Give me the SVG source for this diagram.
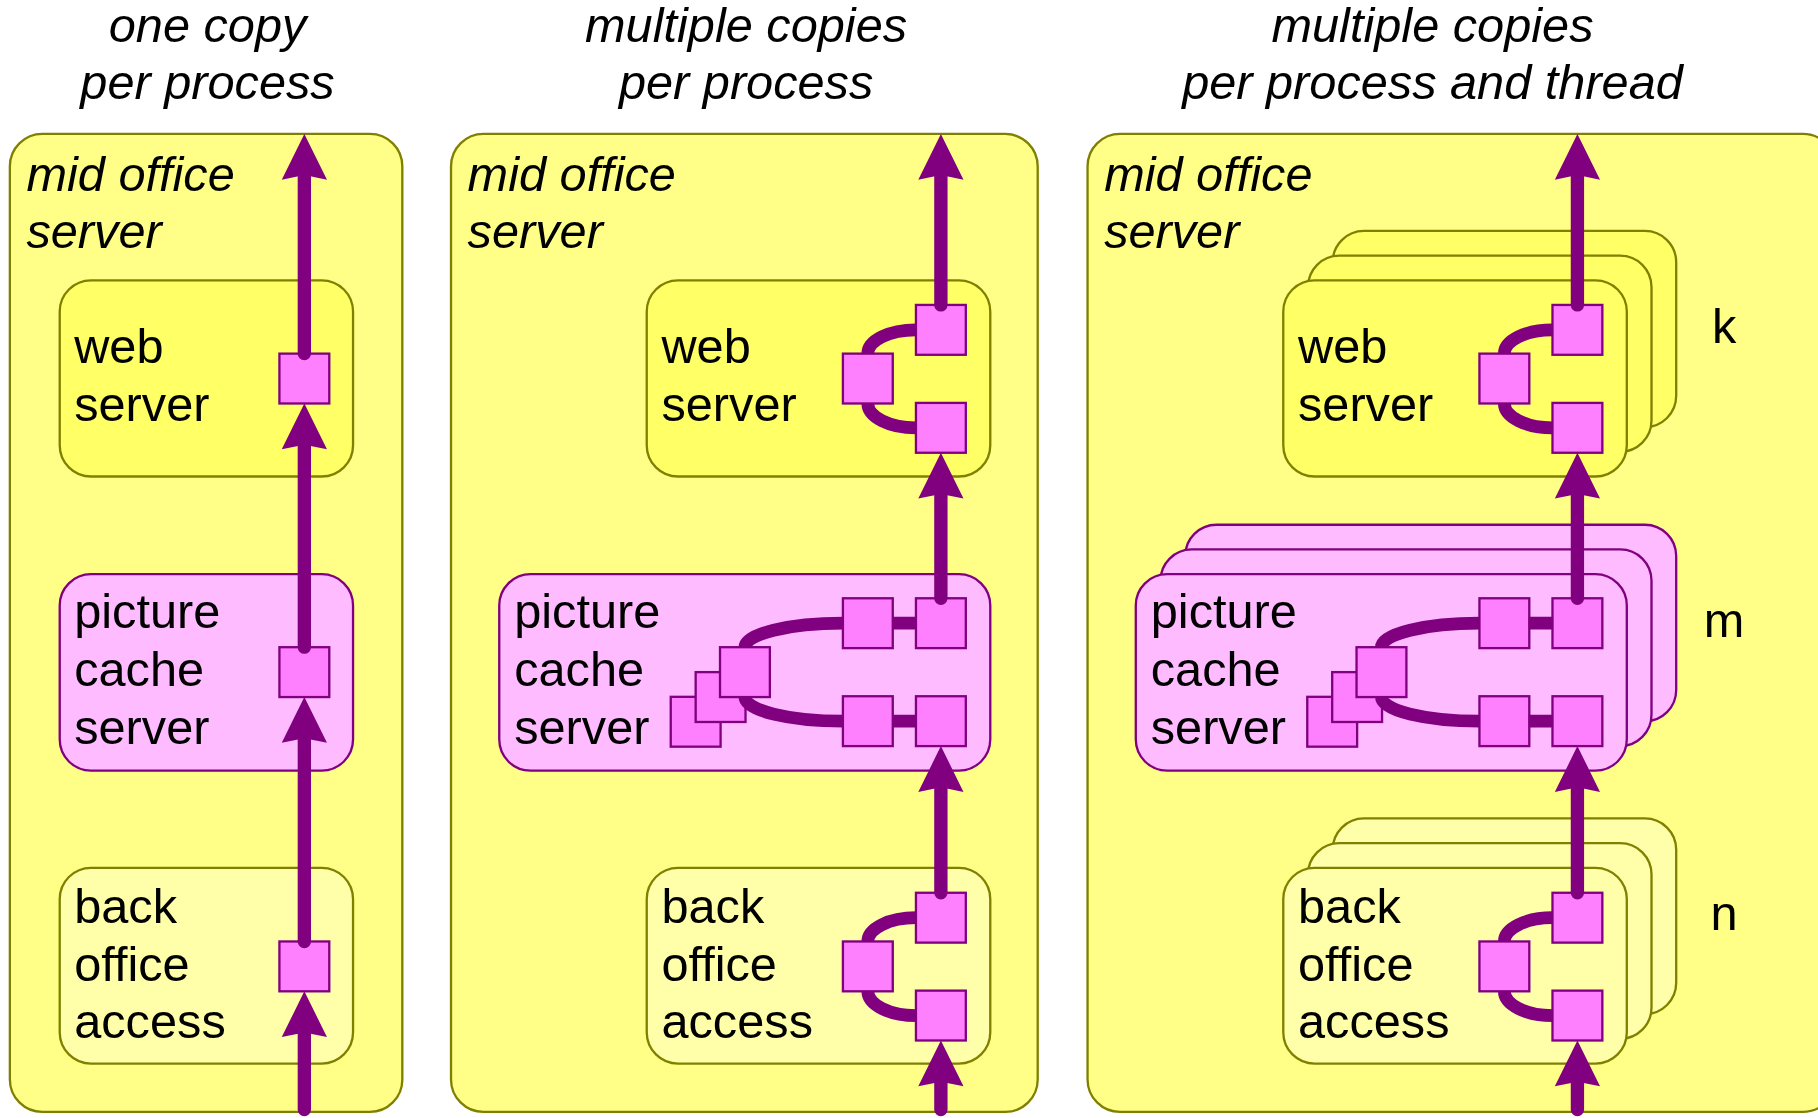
<svg xmlns="http://www.w3.org/2000/svg" xmlns:xlink="http://www.w3.org/1999/xlink" width="1818" height="1118" viewBox="0 0 1818 1118">
<defs>
<style>
.t{font-family:"Liberation Sans",Arial,sans-serif;font-size:42px;fill:#000}
.i{font-style:italic}
.outer{fill:#FFFF88;stroke:#808000;stroke-width:2}
.web{fill:#FFFF66;stroke:#808000;stroke-width:2}
.pic{fill:#FFBBFF;stroke:#800080;stroke-width:2}
.back{fill:#FFFFAA;stroke:#808000;stroke-width:2}
.sq{fill:#FF80FF;stroke:#800080;stroke-width:2}
.flow{fill:none;stroke:#800080;stroke-width:11.5;stroke-linecap:round}
.link{fill:none;stroke:#800080;stroke-width:11}
.head{fill:#800080}
</style>
<path id="ah" class="head" d="M0,0 L19.5,39.5 L0,35.5 L-19.5,39.5 Z"/>
</defs>
<rect x="0" y="0" width="1818" height="1118" fill="#FFFFFF"/>
<g transform="scale(1.159439)">

<!-- titles -->
<g id="title1"><text class="t i" text-anchor="middle"><tspan x="179" y="36.5">one copy</tspan><tspan x="179" y="85">per process</tspan></text></g>
<g id="title2"><text class="t i" text-anchor="middle"><tspan x="643.5" y="36.5">multiple copies</tspan><tspan x="643.5" y="85">per process</tspan></text></g>
<g id="title3"><text class="t i" text-anchor="middle"><tspan x="1235.5" y="36.5">multiple copies</tspan><tspan x="1235.5" y="85">per process and thread</tspan></text></g>

<!-- panel 1 -->
<g id="p1-mid-office">
<rect class="outer" x="8.5" y="115.5" width="338.5" height="843.5" rx="28"/>
<text class="t i"><tspan x="22.8" y="165">mid office</tspan><tspan x="22.8" y="213.5">server</tspan></text>
</g>
<g id="p1-web">
<rect class="web" x="51.5" y="241.8" width="253" height="169.2" rx="27"/>
<text class="t"><tspan x="64" y="313">web</tspan><tspan x="64" y="363">server</tspan></text>
<rect class="sq" x="241" y="305" width="43" height="43"/>
</g>
<g id="p1-picture">
<rect class="pic" x="51.5" y="495.2" width="253" height="169.5" rx="27"/>
<text class="t"><tspan x="64" y="541.3">picture</tspan><tspan x="64" y="591.5">cache</tspan><tspan x="64" y="641.5">server</tspan></text>
<rect class="sq" x="241" y="558.2" width="43" height="43"/>
</g>
<g id="p1-back">
<rect class="back" x="51.5" y="748.5" width="253" height="168.8" rx="27"/>
<text class="t"><tspan x="64" y="796">back</tspan><tspan x="64" y="846">office</tspan><tspan x="64" y="895.5">access</tspan></text>
<rect class="sq" x="241" y="812" width="43" height="43"/>
</g>

<!-- panel 2 -->
<g id="p2-mid-office">
<rect class="outer" x="389" y="115.5" width="506" height="843.5" rx="28"/>
<text class="t i"><tspan x="403.3" y="165">mid office</tspan><tspan x="403.3" y="213.5">server</tspan></text>
</g>
<g id="p2-web">
<rect class="web" x="557.8" y="241.8" width="296.3" height="169.2" rx="27"/>
<text class="t"><tspan x="570.5" y="313">web</tspan><tspan x="570.5" y="363">server</tspan></text>
<rect class="sq" x="790" y="263" width="43" height="43"/>
<rect class="sq" x="727" y="305" width="43" height="43"/>
<rect class="sq" x="790" y="347.5" width="43" height="43"/>
</g>
<g id="p2-picture">
<rect class="pic" x="430.6" y="495.2" width="423.5" height="169.5" rx="27"/>
<text class="t"><tspan x="443.5" y="541.3">picture</tspan><tspan x="443.5" y="591.5">cache</tspan><tspan x="443.5" y="641.5">server</tspan></text>
<rect class="sq" x="578.5" y="601" width="43" height="43"/>
<rect class="sq" x="600" y="579.7" width="43" height="43"/>
<rect class="sq" x="621" y="558.2" width="43" height="43"/>
<rect class="sq" x="727" y="516" width="43" height="43"/>
<rect class="sq" x="790" y="516" width="43" height="43"/>
<rect class="sq" x="727" y="600.5" width="43" height="43"/>
<rect class="sq" x="790" y="600.5" width="43" height="43"/>
</g>
<g id="p2-back">
<rect class="back" x="557.8" y="748.5" width="296.3" height="168.8" rx="27"/>
<text class="t"><tspan x="570.5" y="796">back</tspan><tspan x="570.5" y="846">office</tspan><tspan x="570.5" y="895.5">access</tspan></text>
<rect class="sq" x="790" y="770" width="43" height="43"/>
<rect class="sq" x="727" y="812" width="43" height="43"/>
<rect class="sq" x="790" y="854.4" width="43" height="43"/>
</g>

<!-- panel 3 -->
<g id="p3-mid-office">
<rect class="outer" x="938" y="115.5" width="645" height="843.5" rx="28"/>
<text class="t i"><tspan x="952.3" y="165">mid office</tspan><tspan x="952.3" y="213.5">server</tspan></text>
</g>
<g id="p3-web-copies">
<rect class="web" x="1149.4" y="199.2" width="296.3" height="169.2" rx="27"/>
<rect class="web" x="1128.1" y="220.5" width="296.3" height="169.2" rx="27"/>
</g>
<g id="p3-web">
<rect class="web" x="1106.8" y="241.8" width="296.3" height="169.2" rx="27"/>
<text class="t"><tspan x="1119.5" y="313">web</tspan><tspan x="1119.5" y="363">server</tspan></text>
<rect class="sq" x="1339" y="263" width="43" height="43"/>
<rect class="sq" x="1276" y="305" width="43" height="43"/>
<rect class="sq" x="1339" y="347.5" width="43" height="43"/>
</g>
<g id="p3-picture-copies">
<rect class="pic" x="1022.2" y="452.6" width="423.5" height="169.5" rx="27"/>
<rect class="pic" x="1000.9" y="473.9" width="423.5" height="169.5" rx="27"/>
</g>
<g id="p3-picture">
<rect class="pic" x="979.6" y="495.2" width="423.5" height="169.5" rx="27"/>
<text class="t"><tspan x="992.5" y="541.3">picture</tspan><tspan x="992.5" y="591.5">cache</tspan><tspan x="992.5" y="641.5">server</tspan></text>
<rect class="sq" x="1127.5" y="601" width="43" height="43"/>
<rect class="sq" x="1149" y="579.7" width="43" height="43"/>
<rect class="sq" x="1170" y="558.2" width="43" height="43"/>
<rect class="sq" x="1276" y="516" width="43" height="43"/>
<rect class="sq" x="1339" y="516" width="43" height="43"/>
<rect class="sq" x="1276" y="600.5" width="43" height="43"/>
<rect class="sq" x="1339" y="600.5" width="43" height="43"/>
</g>
<g id="p3-back-copies">
<rect class="back" x="1149.4" y="705.9" width="296.3" height="168.8" rx="27"/>
<rect class="back" x="1128.1" y="727.2" width="296.3" height="168.8" rx="27"/>
</g>
<g id="p3-back">
<rect class="back" x="1106.8" y="748.5" width="296.3" height="168.8" rx="27"/>
<text class="t"><tspan x="1119.5" y="796">back</tspan><tspan x="1119.5" y="846">office</tspan><tspan x="1119.5" y="895.5">access</tspan></text>
<rect class="sq" x="1339" y="770" width="43" height="43"/>
<rect class="sq" x="1276" y="812" width="43" height="43"/>
<rect class="sq" x="1339" y="854.4" width="43" height="43"/>
</g>
<g id="labels">
<text class="t" x="1487" y="296" text-anchor="middle">k</text>
<text class="t" x="1487" y="549" text-anchor="middle">m</text>
<text class="t" x="1487" y="802" text-anchor="middle">n</text>
</g>

<!-- connectors -->
<g id="connectors">
<path class="flow" d="M262.5,957 V885 M262.5,812 V630 M262.5,558.2 V380 M262.5,305 V150"/>
<use xlink:href="#ah" href="#ah" x="262.5" y="855"/>
<use xlink:href="#ah" href="#ah" x="262.5" y="601.2"/>
<use xlink:href="#ah" href="#ah" x="262.5" y="348"/>
<use xlink:href="#ah" href="#ah" x="262.5" y="115.5"/>

<path class="flow" d="M811.5,957 V930 M811.5,770 V675 M811.5,516 V425 M811.5,263 V150"/>
<path class="link" d="M748.5,305 A41.5,20.5 0 0 1 790,284.5 M748.5,348 A41.5,21 0 0 0 790,369 M642.5,558.2 A84.5,20.7 0 0 1 727,537.5 M642.5,601.2 A84.5,20.8 0 0 0 727,622 M769.5,537.5 H790.5 M769.5,622 H790.5 M748.5,812 A41.5,20.5 0 0 1 790,791.5 M748.5,855 A41.5,21 0 0 0 790,876"/>
<use xlink:href="#ah" href="#ah" x="811.5" y="897.4"/>
<use xlink:href="#ah" href="#ah" x="811.5" y="643.5"/>
<use xlink:href="#ah" href="#ah" x="811.5" y="390.5"/>
<use xlink:href="#ah" href="#ah" x="811.5" y="115.5"/>

<path class="flow" d="M1360.5,957 V930 M1360.5,770 V675 M1360.5,516 V425 M1360.5,263 V150"/>
<path class="link" d="M1297.5,305 A41.5,20.5 0 0 1 1339,284.5 M1297.5,348 A41.5,21 0 0 0 1339,369 M1191.5,558.2 A84.5,20.7 0 0 1 1276,537.5 M1191.5,601.2 A84.5,20.8 0 0 0 1276,622 M1318.5,537.5 H1339.5 M1318.5,622 H1339.5 M1297.5,812 A41.5,20.5 0 0 1 1339,791.5 M1297.5,855 A41.5,21 0 0 0 1339,876"/>
<use xlink:href="#ah" href="#ah" x="1360.5" y="897.4"/>
<use xlink:href="#ah" href="#ah" x="1360.5" y="643.5"/>
<use xlink:href="#ah" href="#ah" x="1360.5" y="390.5"/>
<use xlink:href="#ah" href="#ah" x="1360.5" y="115.5"/>
</g>
</g>
</svg>
